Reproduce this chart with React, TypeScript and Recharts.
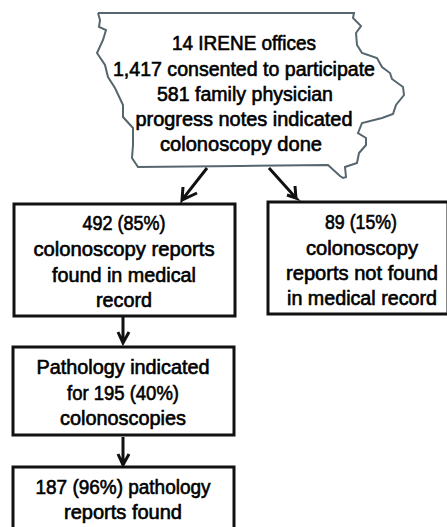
import { ComposedChart, Line, Scatter, ReferenceArea, XAxis, YAxis } from 'recharts';

const WIDTH = 447;
const HEIGHT = 527;

// Iowa outline, clockwise from the top left corner
const outlineX = [98, 354, 353, 361, 356, 357, 362, 377, 382, 390, 392, 403, 404, 396, 393, 382, 362, 358, 366, 366, 359, 357, 345, 346, 343, 340, 328, 240, 138, 132, 133, 133, 123, 123, 115, 108, 105, 97, 103, 106, 99, 100, 98];
const outlineY = [13, 13, 18, 26, 33, 45, 53, 58, 67, 73, 79, 87, 95, 105, 114, 118, 123, 133, 138, 145, 153, 163, 167, 177, 178, 176, 165, 166, 167, 158, 145, 128, 117, 105, 88, 77, 65, 53, 40, 30, 27, 20, 13];

// boxes: left, top, right, bottom
const boxLeft = [14, 268, 13, 13];
const boxTop = [204, 202, 347, 467];
const boxRight = [235, 448, 234, 234];
const boxBottom = [316, 314, 435, 540];

// arrows: tail, tip, barb, tip, barb
const arrowXs = [
  [207, 182, 183, 182, 197],
  [269, 296, 287, 296, 295],
  [123, 123, 118, 123, 129],
  [123, 123, 118, 123, 129],
];
const arrowYs = [
  [168, 200, 187, 200, 193],
  [168, 198, 195, 198, 186],
  [316, 343, 332, 343, 332],
  [437, 465, 454, 465, 454],
];

const labelText = [
  '14 IRENE offices',
  '1,417 consented to participate',
  '581 family physician',
  'progress notes indicated',
  'colonoscopy done',
  '492 (85%)',
  'colonoscopy reports',
  'found in medical',
  'record',
  '89 (15%)',
  'colonoscopy',
  'reports not found',
  'in medical record',
  'Pathology indicated',
  'for 195 (40%)',
  'colonoscopies',
  '187 (96%) pathology',
  'reports found',
];
const labelX = [244, 244, 245, 244, 241, 124, 124, 124, 124, 361, 362, 362, 362, 123, 123, 123, 123, 123];
const labelY = [43, 69, 94, 119, 144, 223, 249, 275, 300, 222, 248, 273, 298, 367, 393, 418, 487, 512];
// measured width of each line in the picture
const labelWidth = [144, 262, 176, 217, 162, 83, 181, 144, 56, 72, 112, 152, 150, 173, 112, 126, 175, 118];

const outline = outlineX.map((x, i) => ({ x, y: outlineY[i] }));
const labels = labelText.map((text, i) => ({ x: labelX[i], y: labelY[i], text, width: labelWidth[i] }));
const arrows = arrowXs.map((xs, i) => xs.map((x, j) => ({ x, y: arrowYs[i][j] })));

function LabelShape(props: any) {
  return (
    <text
      x={props.cx}
      y={props.cy}
      textAnchor="middle"
      dominantBaseline="central"
      fontFamily="Liberation Sans"
      fontSize={19.5}
      fill="#000"
      stroke="#000"
      strokeWidth={0.6}
      textLength={props.payload.width}
      lengthAdjust="spacingAndGlyphs"
    >
      {props.payload.text}
    </text>
  );
}

export default function App() {
  return (
    <div style={{ position: 'absolute', left: 0, top: 0, width: WIDTH, height: HEIGHT, overflow: 'hidden', background: '#fff' }}>
      <ComposedChart width={WIDTH} height={HEIGHT} margin={{ top: 0, right: 0, bottom: 0, left: 0 }}>
        <XAxis type="number" dataKey="x" domain={[0, WIDTH]} hide allowDataOverflow />
        <YAxis type="number" dataKey="y" domain={[0, HEIGHT]} reversed hide allowDataOverflow />
        {boxLeft.map((x1, i) => (
          <ReferenceArea
            key={i}
            x1={x1}
            x2={boxRight[i]}
            y1={boxTop[i]}
            y2={boxBottom[i]}
            fill="#fff"
            fillOpacity={1}
            stroke="#111"
            strokeWidth={3}
            ifOverflow="visible"
          />
        ))}
        <Line data={outline} dataKey="y" type="linear" stroke="#56666e" strokeWidth={2} dot={false} activeDot={false} isAnimationActive={false} />
        {arrows.map((points, i) => (
          <Line key={i} data={points} dataKey="y" type="linear" stroke="#111" strokeWidth={3} dot={false} activeDot={false} isAnimationActive={false} />
        ))}
        <Scatter data={labels} dataKey="y" shape={LabelShape} isAnimationActive={false} />
      </ComposedChart>
    </div>
  );
}
